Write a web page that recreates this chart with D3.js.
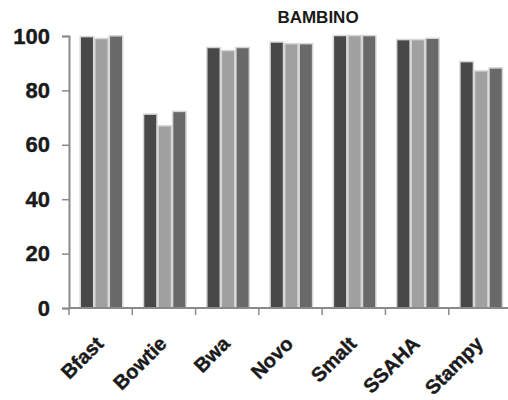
<!DOCTYPE html>
<html>
<head>
<meta charset="utf-8">
<script src="https://cdn.jsdelivr.net/npm/d3@7"></script>
<style>
  html, body { margin: 0; padding: 0; background: #fff; }
  svg { display: block; }
  text { font-family: "Liberation Sans", Arial, sans-serif; font-weight: bold; fill: #1a1a1a; }
</style>
</head>
<body>
<svg id="chart" width="508" height="400"></svg>
<script>
const title = "BAMBINO";
const categories = ["Bfast", "Bowtie", "Bwa", "Novo", "Smalt", "SSAHA", "Stampy"];
const seriesNames = ["s1", "s2", "s3"];
const series1 = [99.5, 71.0, 95.5, 97.5, 99.9, 98.4, 90.3];
const series2 = [98.8, 66.7, 94.4, 96.9, 99.9, 98.4, 86.9];
const series3 = [99.8, 72.0, 95.5, 96.9, 99.9, 98.9, 88.0];
const yTicks = [0, 20, 40, 60, 80, 100];
const colors = ["#484848", "#a0a0a0", "#696969"];

const seriesValues = [series1, series2, series3];
const data = categories.map((c, i) => ({
  cat: c,
  vals: seriesNames.map((s, j) => ({ key: s, value: seriesValues[j][i] }))
}));

const svg = d3.select("#chart");
const mLeft = 69, mRight = 512, mTop = 36, mBottom = 308;

const x = d3.scaleBand().domain(categories).range([mLeft, mRight]).padding(0);
const xs = d3.scaleBand().domain(seriesNames).range([12, 53]).paddingInner(0.18).paddingOuter(0);
const y = d3.scaleLinear().domain([0, 100]).range([mBottom, mTop]);

// bars with light halo
const groups = svg.append("g").selectAll("g").data(data).join("g")
  .attr("transform", d => `translate(${x(d.cat)},0)`);

groups.selectAll("rect.halo").data(d => d.vals).join("rect")
  .attr("class", "halo")
  .attr("x", d => xs(d.key) - 1.5)
  .attr("y", d => y(d.value) - 1.5)
  .attr("width", xs.bandwidth() + 3)
  .attr("height", d => mBottom - y(d.value) + 1.5)
  .attr("fill", "#d6d6d6");

groups.selectAll("rect.bar").data(d => d.vals).join("rect")
  .attr("class", "bar")
  .attr("x", d => xs(d.key))
  .attr("y", d => y(d.value))
  .attr("width", xs.bandwidth())
  .attr("height", d => mBottom - y(d.value))
  .attr("fill", (d, j) => colors[j]);

// Y axis
const yAxis = d3.axisLeft(y).tickValues(yTicks).tickSize(7).tickPadding(12);
const gy = svg.append("g").attr("transform", `translate(${mLeft},0)`).call(yAxis);
gy.select(".domain").attr("stroke", "#8a8a8a").attr("stroke-width", 2);
gy.selectAll(".tick line").attr("stroke", "#8a8a8a").attr("stroke-width", 1.5);
gy.selectAll(".tick text").attr("font-size", 22).attr("fill", "#1a1a1a")
  .attr("stroke", "#1a1a1a").attr("stroke-width", 0.4)
  .style("font-family", '"Liberation Sans", Arial, sans-serif').style("font-weight", "bold");

// X axis: ticks at band boundaries
const gx = svg.append("g");
gx.append("line").attr("x1", mLeft).attr("x2", 508).attr("y1", mBottom).attr("y2", mBottom)
  .attr("stroke", "#8a8a8a").attr("stroke-width", 2);
gx.selectAll("line.tk").data(categories).join("line").attr("class", "tk")
  .attr("x1", d => x(d)).attr("x2", d => x(d))
  .attr("y1", mBottom).attr("y2", mBottom + 7)
  .attr("stroke", "#8a8a8a").attr("stroke-width", 1.5);

gx.selectAll("text").data(categories).join("text")
  .attr("transform", d => `translate(${x(d) + x.bandwidth() / 2 + 4},${mBottom + 37}) rotate(-45)`)
  .attr("text-anchor", "end")
  .attr("font-size", 20)
  .attr("stroke", "#1a1a1a").attr("stroke-width", 0.4)
  .text(d => d);

// title
svg.append("text").attr("x", 318).attr("y", 23).attr("text-anchor", "middle")
  .attr("font-size", 17).text(title);
</script>
</body>
</html>
